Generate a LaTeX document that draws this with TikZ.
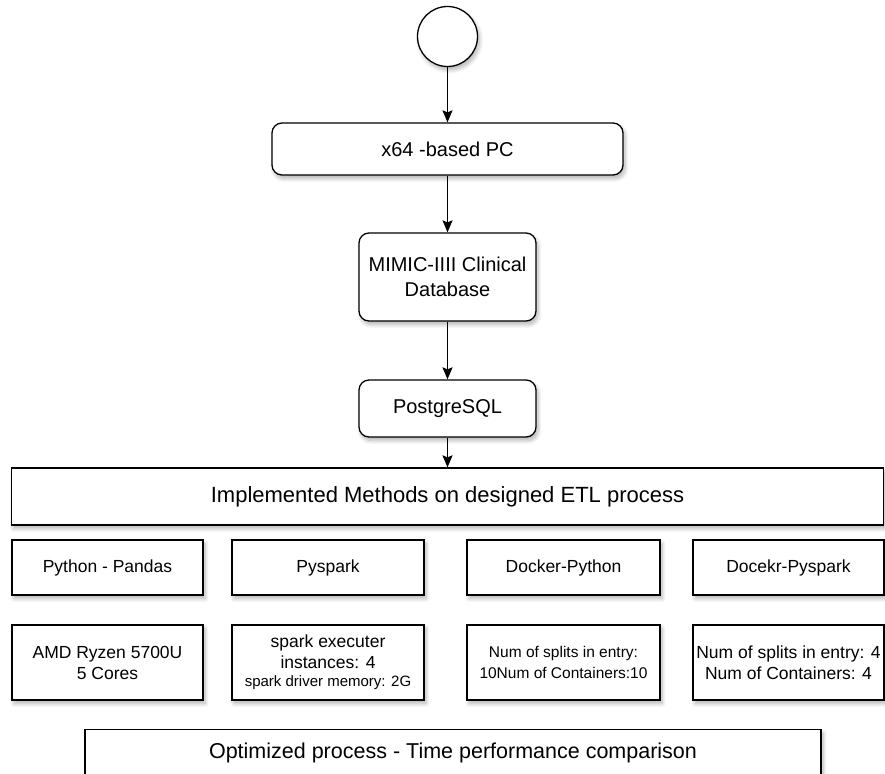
\documentclass[tikz,border=0pt]{standalone}
\usepackage{fontspec}
\setmainfont{Liberation Sans}
\usetikzlibrary{arrows.meta}
\usetikzlibrary{shadows.blur}

\tikzset{
  etlbox/.style={draw, line width=1.3pt, fill=white, inner sep=0pt, align=center,
    blur shadow={shadow xshift=2pt, shadow yshift=-3.5pt, shadow blur steps=8, shadow blur radius=4pt,
      shadow opacity=30}},
  roundbox/.style={etlbox, rounded corners=10pt, font=\fontsize{20}{25}\selectfont},
  startnode/.style={etlbox, circle, minimum size=60pt},
  methodbox/.style={etlbox, minimum width=192pt, minimum height=55pt, font=\fontsize{17.5}{21}\selectfont},
  setupbox/.style={etlbox, minimum width=192pt, minimum height=75pt, font=\fontsize{17.5}{21}\selectfont},
  flow/.style={line width=1.3pt, -{Stealth[length=12pt, width=10pt, inset=2pt]}}
}

\begin{document}
\begin{tikzpicture}[x=1pt, y=-1pt]
\useasboundingbox (0,0) rectangle (885,773);
\clip (0,0) rectangle (885,773);

% flow down to the database
\node[startnode] (start) at (447.5,36.5) {};
\node[roundbox, minimum width=351pt, minimum height=52pt] (pc) at (447.5,149) {x64 -based PC};
\node[roundbox, minimum width=177pt, minimum height=88pt] (mimic) at (447.5,277) {MIMIC-IIII Clinical\\Database};
\node[roundbox, minimum width=177pt, minimum height=57pt] (postgres) at (447.5,408.5) {PostgreSQL};
\node[etlbox, minimum width=872pt, minimum height=57pt, font=\fontsize{22}{26}\selectfont] (methods) at (447.5,496.5) {Implemented Methods on designed ETL process};

\draw[flow] (start) -- (pc);
\draw[flow] (pc) -- (mimic);
\draw[flow] (mimic) -- (postgres);
\draw[flow] (postgres) -- (methods);

% methods
\node[methodbox, minimum width=191pt] (pandas) at (107.5,567.5) {Python - Pandas};
\node[methodbox] (pyspark) at (328,567.5) {Pyspark};
\node[methodbox, minimum width=193pt] (dockpy) at (563.5,567.5) {Docker-Python};
\node[methodbox, minimum width=191pt] (dockspark) at (788.5,567.5) {Docekr-Pyspark};

% settings
\node[setupbox, minimum width=191pt] (amd) at (107.5,662.5) {AMD Ryzen 5700U\\5 Cores};
\node[setupbox] (spark) at (328,662.5) {spark executer\\instances: 4\\[-3pt]\fontsize{15}{18}\selectfont spark driver memory: 2G};
\node[setupbox, minimum width=193pt, font=\fontsize{15.5}{21}\selectfont] (splits) at (563.5,662.5) {Num of splits in entry:\\10Num of Containers:10};
\node[setupbox, minimum width=191pt] (containers) at (788.5,662.5) {Num of splits in entry: 4\\Num of Containers: 4};

% result
\node[etlbox, anchor=north, minimum width=736pt, text height=29pt, text depth=45pt, font=\fontsize{21.5}{26}\selectfont] (result) at (453,729) {Optimized process - Time performance comparison};

\end{tikzpicture}
\end{document}
